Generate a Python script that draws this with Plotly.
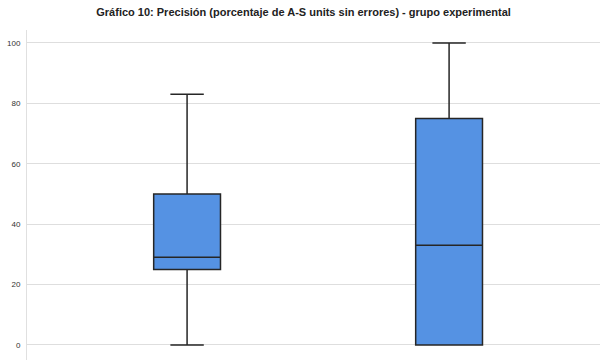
import plotly.graph_objects as go

# Group labels (not shown on the axis) and five-number summaries
groups = ["Grupo A", "Grupo B"]
lower_whisker = [0, 0]
q1 = [25, 0]
median = [29, 33]
q3 = [50, 75]
upper_whisker = [83, 100]

y_ticks = [0, 20, 40, 60, 80, 100]

fig = go.Figure()
fig.add_trace(go.Box(
    x=groups,
    lowerfence=lower_whisker,
    q1=q1,
    median=median,
    q3=q3,
    upperfence=upper_whisker,
    fillcolor="#5592e3",
    line=dict(color="#262626", width=1.5),
    whiskerwidth=0.5,
    width=0.255,
    boxpoints=False,
    hoverinfo="skip",
))

fig.update_layout(
    width=600,
    height=360,
    margin=dict(l=27, r=0, t=30, b=0),
    paper_bgcolor="white",
    plot_bgcolor="white",
    showlegend=False,
    title=dict(
        text="<b>Gráfico 10: Precisión (porcentaje de A-S units sin errores) - grupo experimental</b>",
        x=0.506,
        xanchor="center",
        y=0.965,
        yanchor="middle",
        font=dict(family="Liberation Sans, Arial, sans-serif", size=11, color="#222222"),
    ),
    font=dict(family="Liberation Sans, Arial, sans-serif"),
)

fig.update_xaxes(
    type="category",
    range=[-0.611, 1.576],
    showticklabels=False,
    showgrid=False,
    zeroline=False,
    showline=False,
)

fig.update_yaxes(
    range=[-5, 104.3],
    tickvals=y_ticks,
    ticktext=[str(v) for v in y_ticks],
    tickfont=dict(size=8, color="#333333"),
    showgrid=True,
    gridcolor="#dedede",
    gridwidth=1,
    zeroline=False,
    showline=True,
    linecolor="#e0e0e0",
    linewidth=1,
    ticks="",
    ticklabelstandoff=4,
)

fig.write_html("out.html")
